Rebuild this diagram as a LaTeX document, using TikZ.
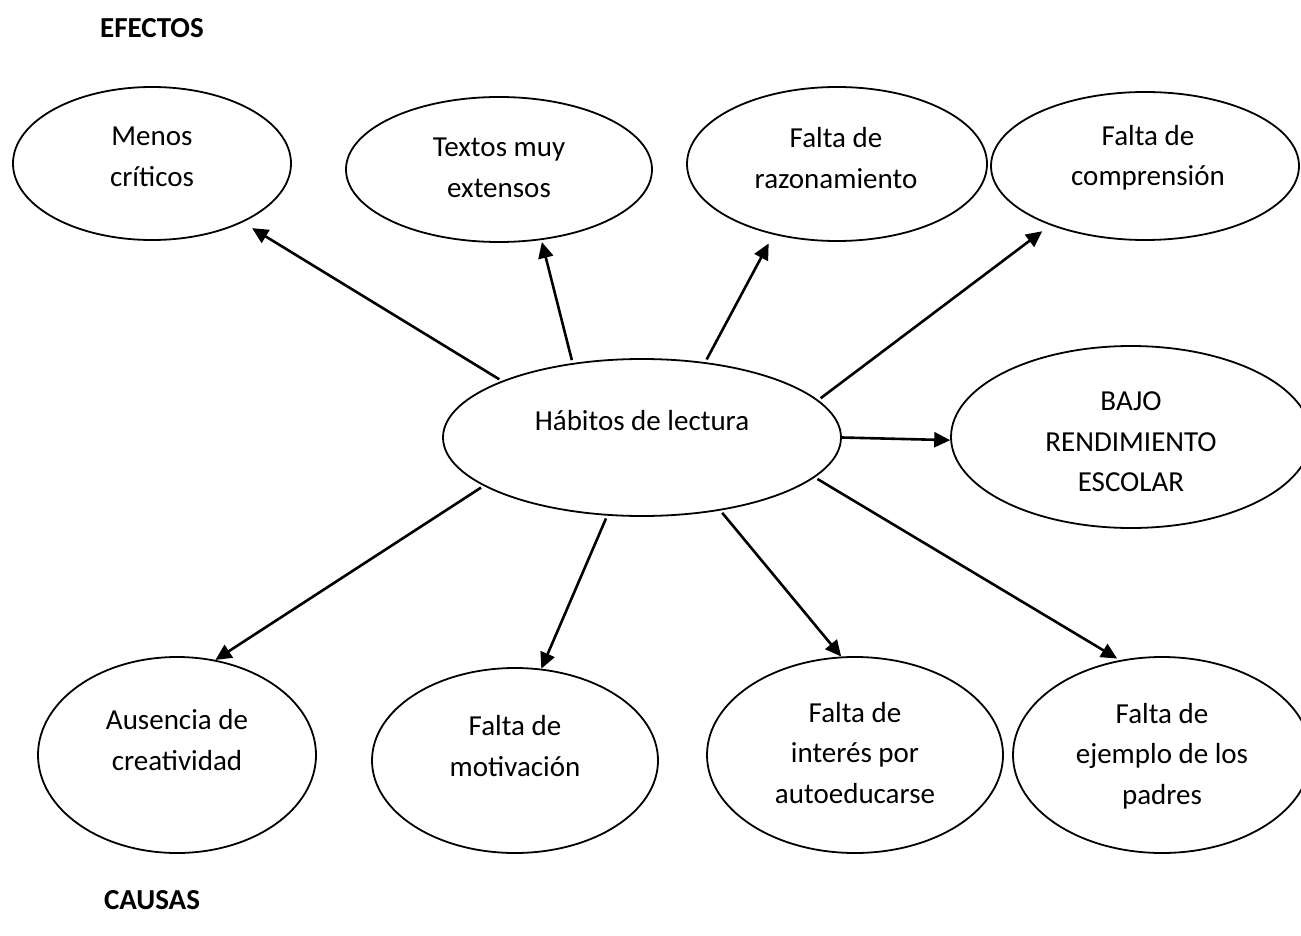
\documentclass[tikz,border=0pt]{standalone}
\usepackage{fontspec}
\setmainfont{Carlito}
\usetikzlibrary{arrows.meta}
\tikzset{
  ell/.style={draw=black, line width=1.8pt, ellipse, inner sep=0pt},
  lbl/.style={align=center, font=\fontsize{29}{40.5}\selectfont, inner sep=0pt},
  ttl/.style={font=\fontsize{29}{40.5}\selectfont\bfseries, inner sep=0pt},
  arr/.style={line width=2.6pt, -{Triangle[length=16pt,width=15pt]}, shorten <=3pt}
}
\usetikzlibrary{shapes.geometric}
\begin{document}
\begin{tikzpicture}[x=1pt,y=-1pt]
\clip (0,0) rectangle (1301,936);
\fill[white] (0,0) rectangle (1301,936);
% ellipses
\node[ell, minimum width=278pt, minimum height=153pt] (menos) at (152,163.5) {};
\node[ell, minimum width=306pt, minimum height=145pt] (textos) at (499,169.5) {};
\node[ell, minimum width=300pt, minimum height=154pt] (razon) at (837,164) {};
\node[ell, minimum width=308pt, minimum height=148pt] (compr) at (1145,166) {};
\node[ell, minimum width=398pt, minimum height=157pt] (hab) at (642,437.5) {};
\node[ell, minimum width=360pt, minimum height=182pt] (bajo) at (1131,437) {};
\node[ell, minimum width=278pt, minimum height=196pt] (aus) at (177,755) {};
\node[ell, minimum width=286pt, minimum height=185pt] (mot) at (515,760.5) {};
\node[ell, minimum width=296pt, minimum height=196pt] (inter) at (855,755) {};
\node[ell, minimum width=298pt, minimum height=196pt] (padres) at (1162,755) {};
% texts
\node[lbl] (tmenos) at (152,157) {Menos\\críticos};
\node[lbl] (ttextos) at (499,168) {Textos muy\\extensos};
\node[lbl] (trazon) at (836,158) {Falta de\\razonamiento};
\node[lbl] (tcompr) at (1148,158) {Falta de\\comprensión};
\node[lbl] (thab) at (642,421) {Hábitos de lectura};
\node[lbl] (tbajo) at (1131,442) {BAJO\\RENDIMIENTO\\ESCOLAR};
\node[lbl] (taus) at (177,740) {Ausencia de\\creatividad};
\node[lbl] (tmot) at (515,746) {Falta de\\motivación};
\node[lbl] (tinter) at (855,753) {Falta de\\interés por\\autoeducarse};
\node[lbl] (tpadres) at (1162,756) {Falta de\\ejemplo de los\\padres};
\node[ttl] (efectos) at (152,28.5) {EFECTOS};
\node[ttl] (causas) at (152,900) {CAUSAS};
% arrows
\draw[arr, shorten >=11pt] (hab.158.3) -- (menos.-33);
\draw[arr, shorten >=2pt] (hab.133.7) -- (textos.-59.6);
\draw[arr, shorten >=10pt] (hab.50) -- (razon.-132.7);
\draw[arr, shorten >=10pt] (hab.12.7) -- (compr.-148.4);
\draw[arr, shorten <=0pt] (hab.0) -- (bajo.181.3);
\draw[arr] (hab.-163) -- (aus.68.8);
\draw[arr] (hab.-114.9) -- (mot.74.2);
\draw[arr] (hab.-43.4) -- (inter.98.7);
\draw[arr, shorten >=3pt] (hab.-13.7) -- (padres.114.2);
\end{tikzpicture}
\end{document}
